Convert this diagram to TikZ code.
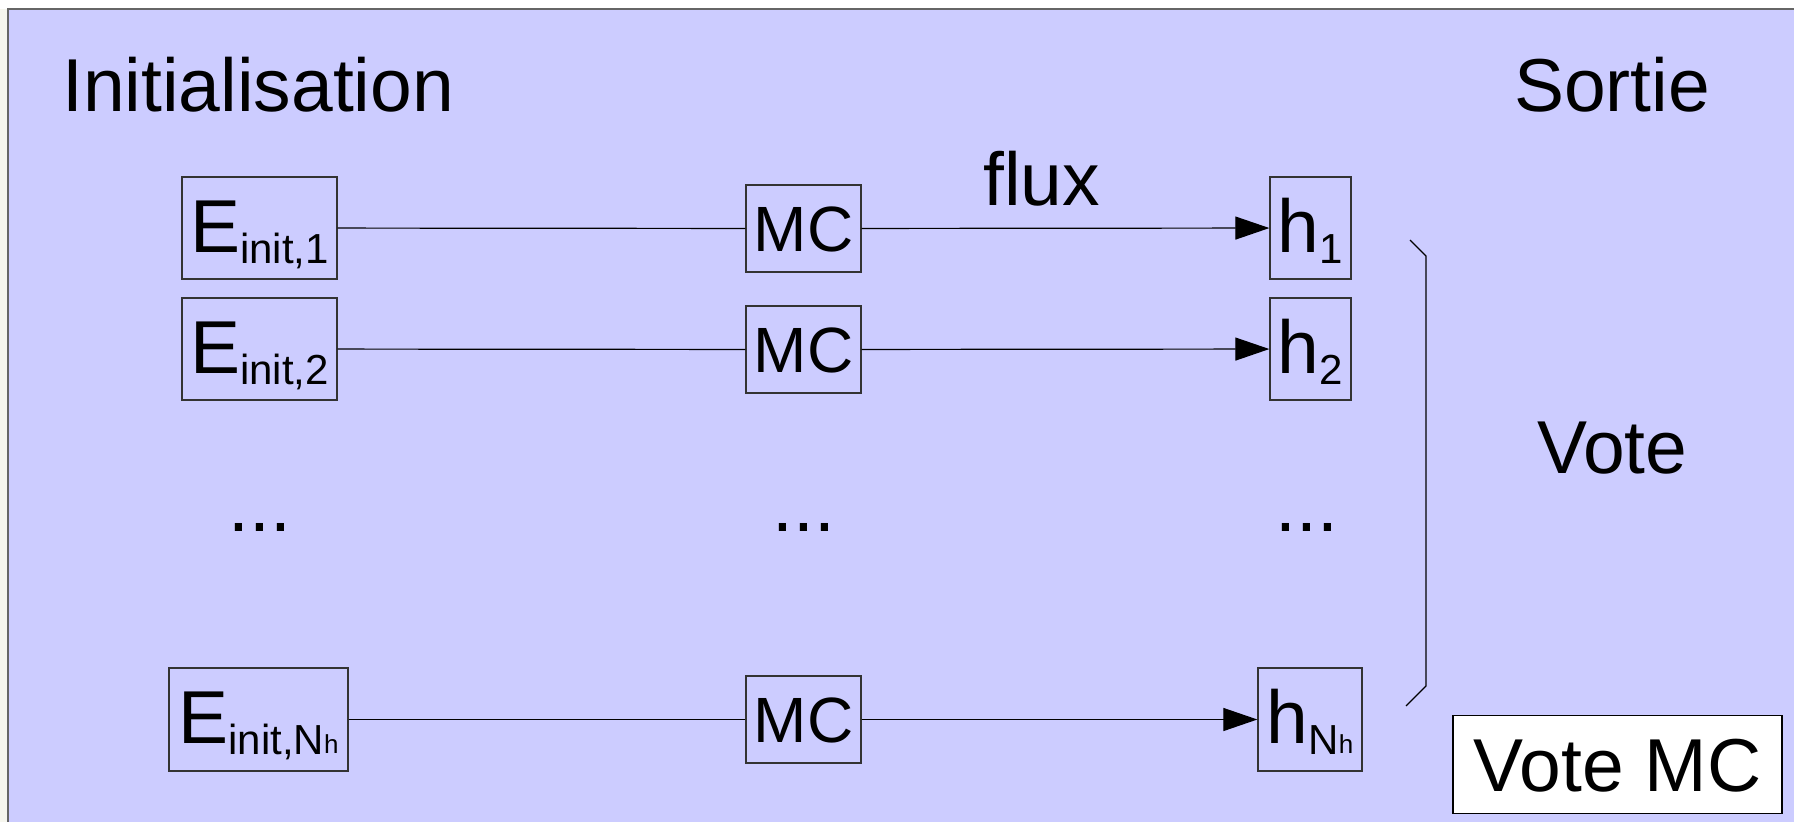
\documentclass[tikz,border=0pt]{standalone}
\usepackage{fontspec}
\setmainfont{Liberation Sans}
\usetikzlibrary{arrows.meta}
\definecolor{bgblue}{HTML}{CCCCFF}
\definecolor{edgecol}{HTML}{F6F6EE}
\definecolor{framegray}{HTML}{666666}
\definecolor{boxline}{HTML}{333333}
\newcommand{\fsA}{\fontsize{75}{80}\selectfont}
\newcommand{\fsMC}{\fontsize{64}{70}\selectfont}
\newcommand{\fsSub}{\fontsize{42}{46}\selectfont}
\newcommand{\fsSubSub}{\fontsize{26}{28}\selectfont}
\newcommand{\sbx}[1]{\raisebox{-11pt}{\fsSub #1}}
\newcommand{\Nhsub}{N\raisebox{1.5pt}{\fsSubSub h}}
\tikzset{
  box/.style={draw=boxline, line width=1.3pt, inner sep=0pt, font=\fsA,
    text height=52pt, text depth=4pt, align=center},
  mcbox/.style={draw=boxline, line width=1.3pt, inner sep=0pt, font=\fsMC,
    text height=46pt, text depth=1pt, minimum width=115pt, minimum height=87pt},
  conn/.style={draw=black, line width=1.2pt},
  arr/.style={conn, -{Triangle[length=34pt,width=23pt]}},
  label/.style={inner sep=0pt, font=\fsA, anchor=base west},
  dots/.style={inner sep=0pt, font=\fsA, anchor=base}
}
\begin{document}
\begin{tikzpicture}[x=1pt,y=-1pt]
\useasboundingbox (0,0) rectangle (1794,822);
\fill[white] (0,0) rectangle (1794,9);
\fill[edgecol] (0,9) rectangle (8,822);
\fill[bgblue] (8,9) rectangle (1794,822);
\draw[framegray, line width=2pt] (8,822) -- (8,9) -- (1794,9);

% headings
\node[label] (init) at (62,111) {Initialisation};
\node[label] (sortie) at (1514,111) {Sortie};
\node[label] (flux) at (983,205) {flux};
\node[label] (vote) at (1537,473) {Vote};

% left column
\node[box, minimum width=155pt, minimum height=102pt] (e1) at (259.5,228) {E\sbx{init,1}};
\node[box, minimum width=155pt, minimum height=102pt] (e2) at (259.5,349) {E\sbx{init,2}};
\node[box, minimum width=179pt, minimum height=103pt] (en) at (258.5,719.5) {E\sbx{init,\Nhsub}};

% MC column
\node[mcbox] (mc1) at (803.5,228.5) {MC};
\node[mcbox] (mc2) at (803.5,349.5) {MC};
\node[mcbox] (mc3) at (803.5,719.5) {MC};

% h column
\node[box, minimum width=81pt, minimum height=102pt] (h1) at (1310.5,228) {h\sbx{1}};
\node[box, minimum width=81pt, minimum height=102pt] (h2) at (1310.5,349) {h\sbx{2}};
\node[box, minimum width=104pt, minimum height=103pt] (hn) at (1310,719.5) {h\sbx{\Nhsub}};

% dots
\node[dots] (d1) at (260,531) {...};
\node[dots] (d2) at (804,531) {...};
\node[dots] (d3) at (1307,531) {...};

% connectors
\draw[conn] (e1) -- (mc1);
\draw[conn] (e2) -- (mc2);
\draw[conn] (en) -- (mc3);
\draw[arr] (mc1) -- (h1);
\draw[arr] (mc2) -- (h2);
\draw[arr] (mc3) -- (hn);

% bracket
\coordinate (b1) at (1410,240);
\coordinate (b2) at (1426,256);
\coordinate (b3) at (1426,686);
\coordinate (b4) at (1406,706);
\draw[conn, line width=1.1pt] (b1) -- (b2) -- (b3) -- (b4);

% Vote MC box
\node[draw=black, fill=white, line width=1.5pt, inner sep=0pt, font=\fsA,
  text height=53pt, text depth=0pt, minimum width=329pt, minimum height=98pt]
  (votemc) at (1617.5,764.5) {Vote MC};
\end{tikzpicture}
\end{document}
